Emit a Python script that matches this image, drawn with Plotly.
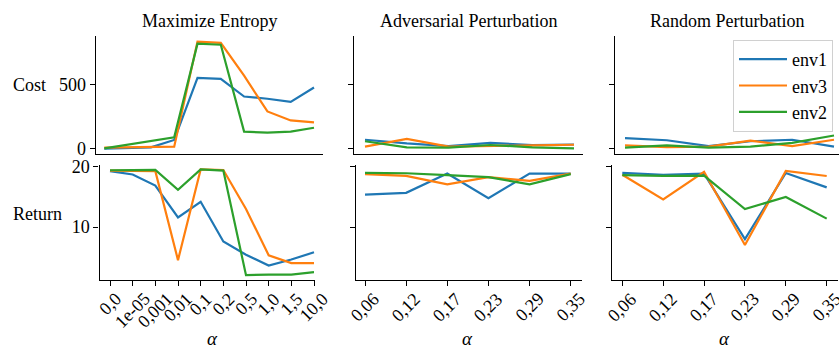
import plotly.graph_objects as go

W, H = 839, 356
FONT = "Liberation Serif"

# ---------------- data ----------------
alpha_ent = ["0,0", "1e-05", "0,001", "0,01", "0,1", "0,2", "0,5", "1,0", "1,5", "10,0"]
alpha_pert = ["0,06", "0,12", "0,17", "0,23", "0,29", "0,35"]

series_names = ["env1", "env3", "env2"]
colors = ["#1f77b4", "#ff7f0e", "#2ca02c"]

# Maximize Entropy
ent_cost_env1 = [0, 5, 10, 67, 550, 543, 405, 388, 363, 475]
ent_cost_env3 = [8, 10, 12, 15, 833, 823, 567, 289, 219, 204]
ent_cost_env2 = [2, 30, 58, 88, 816, 808, 132, 124, 132, 162]
ent_ret_env1 = [19.3, 18.75, 16.9, 11.6, 14.2, 7.6, 5.4, 3.6, 4.6, 5.8]
ent_ret_env3 = [19.4, 19.3, 19.3, 4.5, 19.6, 19.5, 13.0, 5.3, 4.0, 4.0]
ent_ret_env2 = [19.45, 19.45, 19.5, 16.2, 19.6, 19.4, 2.0, 2.1, 2.1, 2.5]

# Adversarial Perturbation
adv_cost_env1 = [69, 40, 20, 45, 27, 32]
adv_cost_env3 = [15, 75, 15, 22, 25, 30]
adv_cost_env2 = [57, 10, 8, 28, 10, 2]
adv_ret_env1 = [15.4, 15.7, 18.9, 14.8, 18.9, 18.9]
adv_ret_env3 = [18.8, 18.5, 17.1, 18.3, 17.7, 18.9]
adv_ret_env2 = [19.0, 18.95, 18.65, 18.3, 17.1, 18.8]

# Random Perturbation
rnd_cost_env1 = [82, 65, 20, 57, 69, 15]
rnd_cost_env3 = [25, 12, 15, 62, 20, 69]
rnd_cost_env2 = [8, 25, 8, 15, 45, 102]
rnd_ret_env1 = [19.0, 18.7, 18.9, 8.0, 19.0, 16.6]
rnd_ret_env3 = [18.7, 14.6, 19.2, 7.0, 19.35, 18.5]
rnd_ret_env2 = [18.65, 18.5, 18.55, 13.0, 15.0, 11.4]

titles = ["Maximize Entropy", "Adversarial Perturbation", "Random Perturbation"]
cost_ticks = [0, 500]
ret_ticks = [10, 20]

panels = [
    # (axis index, categories, [env1, env3, env2])
    (1, alpha_ent, [ent_cost_env1, ent_cost_env3, ent_cost_env2]),
    (2, alpha_pert, [adv_cost_env1, adv_cost_env3, adv_cost_env2]),
    (3, alpha_pert, [rnd_cost_env1, rnd_cost_env3, rnd_cost_env2]),
    (4, alpha_ent, [ent_ret_env1, ent_ret_env3, ent_ret_env2]),
    (5, alpha_pert, [adv_ret_env1, adv_ret_env3, adv_ret_env2]),
    (6, alpha_pert, [rnd_ret_env1, rnd_ret_env3, rnd_ret_env2]),
]

# ---------------- layout geometry (pixels) ----------------
# x: (spine left, spine right, pixel of first category, pixel of last category)
xgeom = {
    1: (95.7, 323, 104.3, 314),
    2: (354.3, 583, 365, 574),
    3: (615, 839, 625, 834),
    4: (99.5, 315, 110, 314),
    5: (355.7, 582, 365, 570.7),
    6: (611.7, 838, 622.3, 826.7),
}
# y: (spine top, spine bottom, pixel a, value a, pixel b, value b)
ygeom_top = (29, 151.5, 145.5, 0, 79, 500)
ygeom_bot = (162.3, 281, 164.5, 20, 226.7, 10)


def xcfg(k, n):
    L, R, p0, pN = xgeom[k]
    s = (pN - p0) / (n - 1)
    return [L / W, R / W], [(L - p0) / s, (R - p0) / s]


def ycfg(g):
    T, B, pa, va, pb, vb = g
    s = (pb - pa) / (va - vb)
    return [(H - B) / H, (H - T) / H], [va - (B - pa) / s, va + (pa - T) / s]


fig = go.Figure()
layout = dict(
    width=W, height=H,
    margin=dict(l=0, r=0, t=0, b=0),
    paper_bgcolor="white", plot_bgcolor="white",
    font=dict(family=FONT, size=18, color="black"),
    showlegend=True,
    legend=dict(
        x=733 / W, y=(H - 33) / H, xanchor="left", yanchor="top",
        bgcolor="white", bordercolor="#d0d0d0", borderwidth=1,
        font=dict(family=FONT, size=18), tracegroupgap=0,
        itemwidth=48,
    ),
)

annotations = []
for k, cats, ys in panels:
    n = len(cats)
    xs = list(range(n))
    for j, (name, col, yv) in enumerate(zip(series_names, colors, ys)):
        fig.add_trace(go.Scatter(
            x=xs, y=yv, mode="lines", name=name,
            line=dict(color=col, width=2.2),
            xaxis=f"x{k}", yaxis=f"y{k}",
            showlegend=(k == 3),
        ))
    xd, xr = xcfg(k, n)
    top = k <= 3
    yd, yr = ycfg(ygeom_top if top else ygeom_bot)
    layout[f"xaxis{k}"] = dict(
        domain=xd, range=xr, anchor=f"y{k}",
        showline=True, linecolor="black", linewidth=1.2,
        showgrid=False, zeroline=False,
        tickmode="array", tickvals=xs,
        ticks="" if top else "outside", ticklen=5, tickwidth=1.2, tickcolor="black",
        showticklabels=False,
    )
    layout[f"yaxis{k}"] = dict(
        domain=yd, range=yr, anchor=f"x{k}",
        showline=True, linecolor="black", linewidth=1.2,
        showgrid=False, zeroline=False,
        tickmode="array", tickvals=cost_ticks if top else ret_ticks,
        ticks="outside", ticklen=5, tickwidth=1.2, tickcolor="black",
        showticklabels=(k in (1, 4)),
        tickfont=dict(family=FONT, size=18),
    )
    if not top:
        for i, lab in enumerate(cats):
            annotations.append(dict(
                x=i, y=(H - 289) / H, xref=f"x{k}", yref="paper",
                text=lab, showarrow=False, textangle=-45,
                xanchor="center", yanchor="top",
                font=dict(family=FONT, size=18), borderpad=0,
            ))
        xc = (xgeom[k][2] + xgeom[k][3]) / 2
        annotations.append(dict(
            x=xc / W, y=(H - 342) / H, xref="paper", yref="paper",
            text="<i>α</i>", showarrow=False, xanchor="center", yanchor="middle",
            font=dict(family=FONT, size=19),
        ))
    else:
        xc = (xgeom[k][0] + xgeom[k][1]) / 2
        annotations.append(dict(
            x=xc / W, y=(H - 13) / H, xref="paper", yref="paper",
            text=titles[k - 1], showarrow=False, xanchor="center", yanchor="middle",
            font=dict(family=FONT, size=18),
        ))

annotations.append(dict(x=29 / W, y=(H - 80) / H, xref="paper", yref="paper",
                        text="Cost", showarrow=False, xanchor="center", yanchor="middle",
                        font=dict(family=FONT, size=18)))
annotations.append(dict(x=37 / W, y=(H - 213) / H, xref="paper", yref="paper",
                        text="Return", showarrow=False, xanchor="center", yanchor="middle",
                        font=dict(family=FONT, size=18)))

layout["annotations"] = annotations
fig.update_layout(**layout)
fig.write_html("out.html")
